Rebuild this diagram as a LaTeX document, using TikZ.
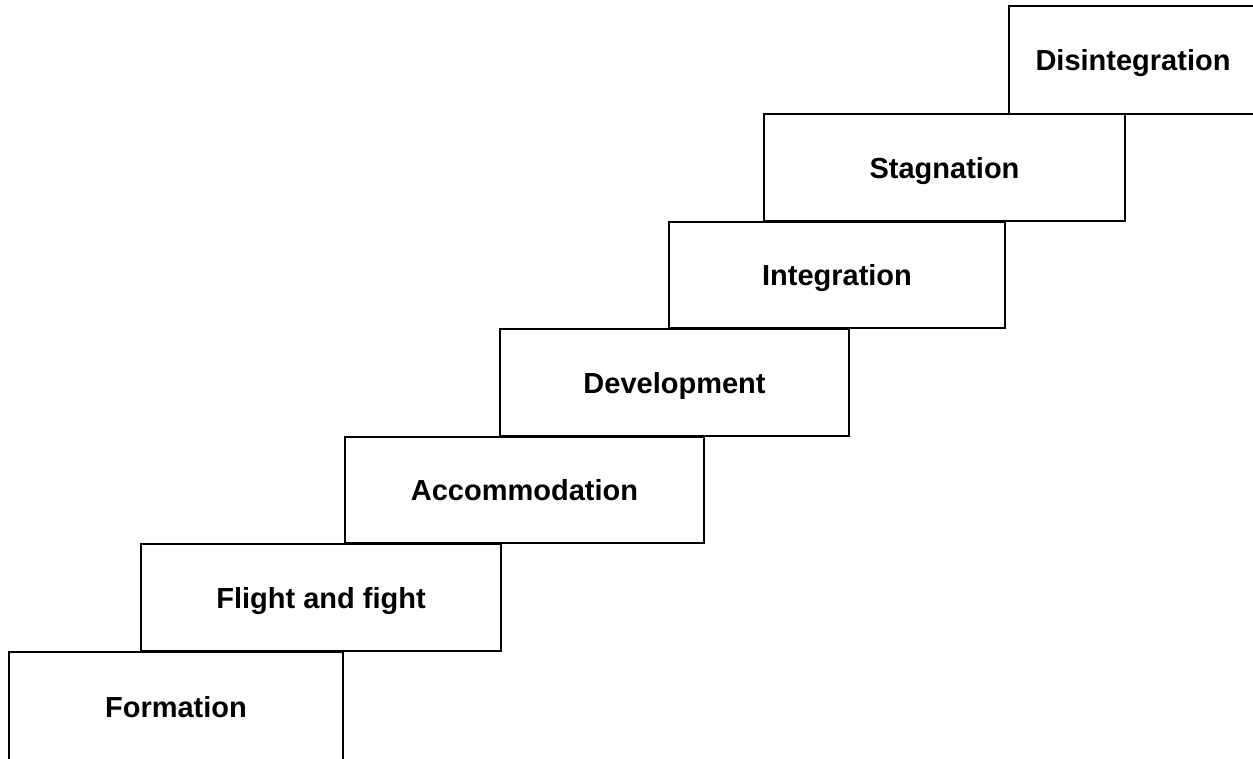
\documentclass[tikz,border=0pt]{standalone}
\usepackage{fontspec}
\setmainfont{Liberation Sans}
\begin{document}
\begin{tikzpicture}[x=1pt,y=-1pt,
  stage/.style={draw=black, line width=2pt, fill=white, anchor=north west, inner sep=0pt,
    text height=21pt, text depth=0pt,
    font=\fontsize{29}{35}\selectfont\bfseries}]
\useasboundingbox (0,0) rectangle (1253,758);
\clip (0,0) rectangle (1253,758);
\node[stage, minimum width=248pt, minimum height=108pt] (dis) at (1008,5) {Disintegration};
\node[stage, minimum width=361pt, minimum height=107pt] (sta) at (763,113) {Stagnation};
\node[stage, minimum width=336pt, minimum height=106pt] (int) at (668,221) {Integration};
\node[stage, minimum width=349pt, minimum height=107pt] (dev) at (499,328) {Development};
\node[stage, minimum width=359pt, minimum height=106pt] (acc) at (344,436) {Accommodation};
\node[stage, minimum width=360pt, minimum height=107pt] (fli) at (140,543) {Flight and fight};
\node[stage, minimum width=334pt, minimum height=110pt] (for) at (8,651) {Formation};
\end{tikzpicture}
\end{document}
